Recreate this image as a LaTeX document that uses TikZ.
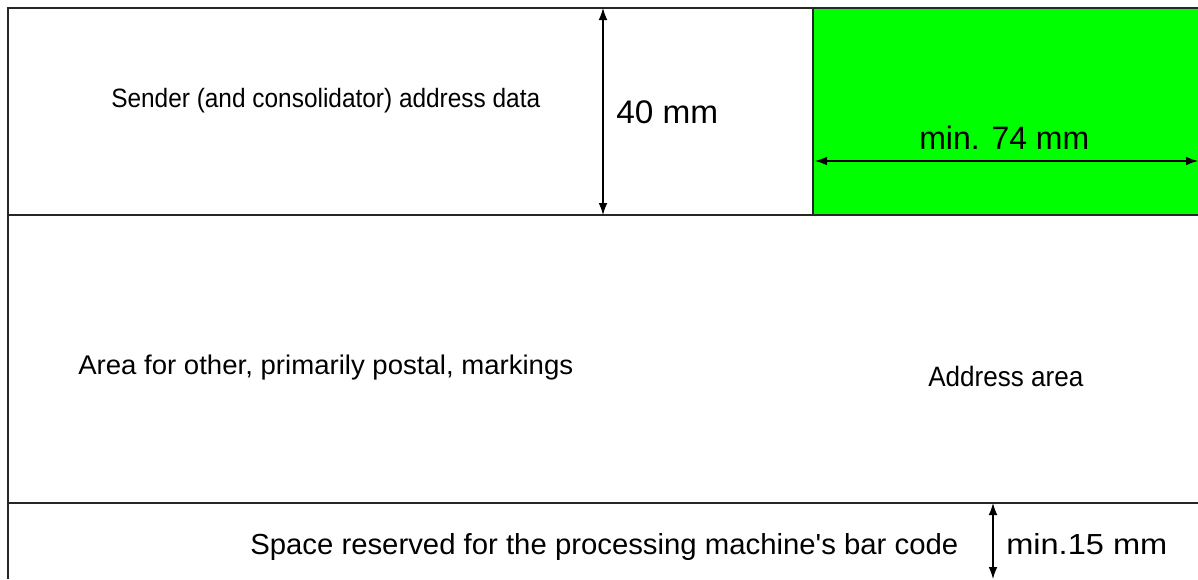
\documentclass[tikz,border=0pt]{standalone}
\usepackage{fontspec}
\setmainfont{Liberation Sans}
\usepackage{graphicx}
\usetikzlibrary{arrows.meta}
\definecolor{addrgreen}{RGB}{0,255,0}
\newcommand{\fitto}[2]{\resizebox{\dimexpr #1pt*3/4\relax}{\height}{#2}}
\begin{document}
\begin{tikzpicture}[x=0.75pt, y=-0.75pt, >={Latex[length=9pt, width=6.5pt]}]
    \tikzstyle{frame_line} = [black!85, line width=1.1pt]
    \tikzstyle{dim_arrow} = [<->, black, line width=0.8pt]
    \tikzstyle{label_node} = [inner sep=0pt, anchor=base west]

    \useasboundingbox (0,0) rectangle (1198,579);

    % green address window and the frame
    \fill[addrgreen] (813,8) rectangle (1198,215);
    \draw[frame_line] (1198,8) -- (8,8) -- (8,579);
    \draw[frame_line] (8,215) -- (1198,215);
    \draw[frame_line] (8,503) -- (1198,503);
    \draw[frame_line] (813,8) -- (813,215);

    \coordinate (c40t) at (603,8);
    \coordinate (c40b) at (603,215);
    \coordinate (c74l) at (815,161);
    \coordinate (c74r) at (1198,161);
    \coordinate (c15t) at (993,503);
    \coordinate (c15b) at (993,579);

    \draw[dim_arrow] (c40t) -- (c40b);
    \draw[dim_arrow] (c74l) -- (c74r);
    \draw[dim_arrow] (c15t) -- (c15b);

    \node[label_node, font={\fontsize{19.9}{24}\selectfont}] (nSender) at (111,107) {\fitto{429}{Sender (and consolidator) address data}};
    \node[label_node, font={\fontsize{24.5}{28}\selectfont}] (n40) at (616,123) {\fitto{102}{40 mm}};
    \node[label_node, font={\fontsize{24.3}{28}\selectfont}] (n74) at (919,149) {\fitto{170}{min. 74 mm}};
    \node[label_node, font={\fontsize{20.25}{24}\selectfont}] (nOther) at (78,374) {\fitto{495}{Area for other, primarily postal, markings}};
    \node[label_node, font={\fontsize{21}{25}\selectfont}] (nAddress) at (928,386.7) {\fitto{155}{Address area}};
    \node[label_node, font={\fontsize{21.75}{26}\selectfont}] (nBarcode) at (250,554) {\fitto{708}{Space reserved for the processing machine\textquotesingle s bar code}};
    \node[label_node, font={\fontsize{21.75}{26}\selectfont}] (n15) at (1006,554) {\fitto{161}{min.15 mm}};
\end{tikzpicture}
\end{document}
